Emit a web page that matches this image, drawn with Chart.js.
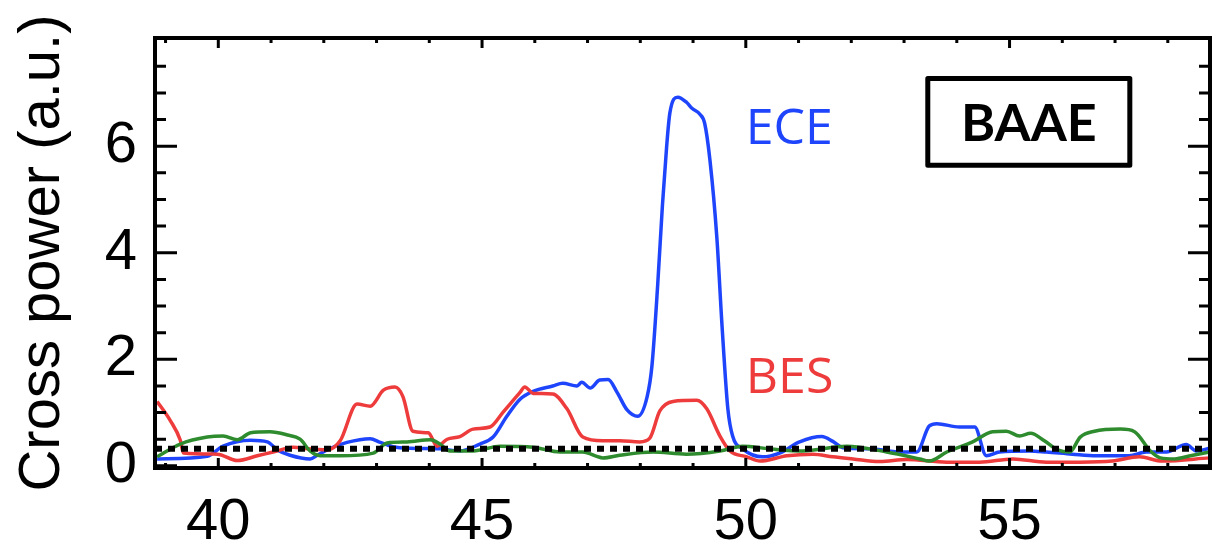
<!DOCTYPE html>
<html>
<head>
<meta charset="utf-8">
<title>BAAE cross power</title>
<script src="https://cdn.jsdelivr.net/npm/chart.js@4.4.1/dist/chart.umd.min.js"></script>
<style>
  html, body { margin:0; padding:0; background:#fff; }
  #wrap { width:1218px; height:550px; position:relative; }
</style>
</head>
<body>
<div id="wrap"><canvas id="cpChart"></canvas></div>
<script>
// ── Spectra (frequency in kHz, cross power in a.u.) ─────
const eceFreq  = [38.84,39.79,40.09,40.61,40.93,41.12,41.36,41.74,41.88,42.06,42.44,42.88,43.07,43.31,43.64,44.20,44.58,44.96,45.21,45.47,45.72,45.97,46.34,46.53,46.80,46.89,47.05,47.23,47.39,47.56,47.75,47.95,48.13,48.22,48.33,48.42,48.50,48.56,48.71,48.88,48.98,49.13,49.22,49.32,49.45,49.55,49.66,49.75,49.94,50.32,50.64,51.02,51.44,51.65,51.84,52.35,52.97,53.24,53.48,53.62,54.05,54.34,54.56,54.81,55.38,55.70,56.19,56.65,57.27,57.59,57.97,58.35,58.54,58.79];
const ecePower = [0.13,0.18,0.37,0.48,0.45,0.30,0.20,0.13,0.20,0.30,0.44,0.51,0.44,0.36,0.33,0.32,0.28,0.41,0.54,0.93,1.25,1.40,1.50,1.55,1.50,1.57,1.46,1.61,1.62,1.38,1.05,0.93,1.30,1.87,3.40,4.90,6.00,6.62,6.92,6.82,6.71,6.60,6.43,5.74,4.30,2.62,1.07,0.56,0.32,0.17,0.24,0.45,0.55,0.46,0.34,0.32,0.26,0.26,0.75,0.79,0.73,0.73,0.19,0.26,0.28,0.26,0.22,0.19,0.19,0.26,0.26,0.40,0.28,0.33];

const besFreq  = [38.84,39.09,39.28,39.34,39.98,40.36,40.74,41.04,41.42,41.69,42.06,42.31,42.63,42.88,43.13,43.35,43.50,43.69,43.98,44.15,44.34,44.58,44.83,45.15,45.40,45.72,45.81,45.97,46.34,46.61,46.91,47.29,47.61,47.99,48.18,48.37,48.62,49.07,49.26,49.51,49.70,50.02,50.27,50.78,51.27,51.65,52.03,52.54,53.05,53.81,54.43,55.06,55.70,56.33,56.95,57.46,57.90,58.79];
const besPower = [1.21,0.85,0.48,0.24,0.22,0.10,0.19,0.26,0.35,0.32,0.30,0.47,1.16,1.12,1.42,1.48,1.30,0.65,0.62,0.37,0.50,0.55,0.69,0.73,1.01,1.38,1.48,1.36,1.35,1.07,0.54,0.47,0.47,0.45,0.52,1.03,1.21,1.23,1.07,0.56,0.28,0.17,0.09,0.19,0.22,0.17,0.13,0.08,0.12,0.07,0.07,0.13,0.07,0.07,0.09,0.17,0.09,0.15];

const refFreq  = [38.84,39.28,39.79,40.09,40.36,40.61,40.98,41.31,41.55,41.74,41.93,42.31,42.94,43.20,43.58,44.02,44.20,44.39,44.83,45.34,45.97,46.48,46.91,47.29,47.61,48.24,48.87,49.51,49.94,50.45,51.08,51.91,52.67,53.30,53.48,53.81,54.30,54.68,54.94,55.19,55.40,55.66,55.91,56.14,56.34,56.61,57.10,57.37,57.67,57.86,58.13,58.43,58.79];
const refPower = [0.17,0.41,0.54,0.56,0.49,0.62,0.64,0.58,0.50,0.28,0.19,0.19,0.24,0.43,0.45,0.49,0.41,0.28,0.28,0.37,0.35,0.26,0.26,0.15,0.20,0.26,0.22,0.28,0.37,0.32,0.28,0.37,0.26,0.13,0.09,0.26,0.45,0.64,0.65,0.56,0.61,0.47,0.30,0.26,0.54,0.65,0.69,0.64,0.28,0.15,0.13,0.19,0.26];

const noiseLevel = 0.32;
const freqRange  = [38.8, 58.8];
const powerRange = [-0.04, 8.03];

const xTicks = [40, 45, 50, 55];
const yTicks = [0, 2, 4, 6];

const toPoints = (xs, ys) => xs.map((x, i) => ({ x, y: ys[i] }));

// ── Box frame with inward ticks on all four sides ───────
const frameTicks = {
  id: "frameTicks",
  afterDraw(chart) {
    const { ctx, chartArea: a, scales: { x, y } } = chart;
    ctx.save();
    ctx.strokeStyle = "#000";
    ctx.lineWidth = 3;
    ctx.beginPath();
    for (let v = Math.ceil(freqRange[0]); v <= freqRange[1]; v++) {
      const px = x.getPixelForValue(v);
      const len = v % 5 === 0 ? 10 : 5;
      ctx.moveTo(px, a.bottom); ctx.lineTo(px, a.bottom - len);
      ctx.moveTo(px, a.top);    ctx.lineTo(px, a.top + len);
    }
    for (let v = 0; v < 8; v += 0.5) {
      const py = y.getPixelForValue(v);
      const len = v % 2 === 0 ? 22 : 11;
      ctx.moveTo(a.left, py);  ctx.lineTo(a.left + len, py);
      ctx.moveTo(a.right, py); ctx.lineTo(a.right - len, py);
    }
    ctx.stroke();
    ctx.lineWidth = 4;
    ctx.strokeRect(a.left, a.top, a.right - a.left, a.bottom - a.top);
    ctx.restore();
  }
};

// ── Curve names and the BAAE box ────────────────────────
const annotations = {
  id: "annotations",
  afterDraw(chart) {
    const { ctx, scales: { x, y } } = chart;
    ctx.save();
    ctx.textBaseline = "middle";
    ctx.textAlign = "left";
    ctx.font = "50px 'Open Sans'";
    ctx.fillStyle = "#1f45fc";
    ctx.fillText("ECE", x.getPixelForValue(50.0), y.getPixelForValue(6.3));
    ctx.fillStyle = "#ee3b3b";
    ctx.fillText("BES", x.getPixelForValue(50.0), y.getPixelForValue(1.63));

    const bx0 = x.getPixelForValue(53.45), bx1 = x.getPixelForValue(57.28);
    const by0 = y.getPixelForValue(7.27),  by1 = y.getPixelForValue(5.64);
    ctx.strokeStyle = "#000";
    ctx.lineWidth = 5;
    ctx.lineJoin = "round";
    ctx.strokeRect(bx0, by0, bx1 - bx0, by1 - by0);
    ctx.fillStyle = "#000";
    ctx.textAlign = "center";
    ctx.font = "bold 52px Lato";
    ctx.fillText("BAAE", (bx0 + bx1) / 2, (by0 + by1) / 2 + 2);
    ctx.restore();
  }
};

const line = (data, color, extra) => Object.assign({
  data, borderColor: color, borderWidth: 3.5, pointRadius: 0,
  cubicInterpolationMode: "monotone", fill: false
}, extra);

new Chart(document.getElementById("cpChart"), {
  type: "line",
  data: {
    datasets: [
      line(toPoints(freqRange, [noiseLevel, noiseLevel]), "#000", { borderWidth: 6, borderDash: [7, 6] }),
      line(toPoints(refFreq, refPower), "#2e8b2e"),
      line(toPoints(besFreq, besPower), "#ee3b3b"),
      line(toPoints(eceFreq, ecePower), "#1f45fc"),
    ]
  },
  options: {
    responsive: true, maintainAspectRatio: false, animation: false,
    layout: { padding: { top: 38, right: 8 } },
    plugins: { legend: { display: false }, tooltip: { enabled: false } },
    scales: {
      x: {
        type: "linear", min: freqRange[0], max: freqRange[1],
        afterBuildTicks: s => { s.ticks = xTicks.map(value => ({ value })); },
        afterFit: s => { s.height = 82; s.paddingLeft = 0; s.paddingRight = 0; },
        grid: { display: false, drawTicks: false }, border: { display: false },
        ticks: { padding: 20, color: "#000", font: { family: "'Liberation Sans', Arial", size: 58 } }
      },
      y: {
        min: powerRange[0], max: powerRange[1],
        afterBuildTicks: s => { s.ticks = yTicks.map(value => ({ value })); },
        afterFit: s => { s.width = 155; s.paddingTop = 0; s.paddingBottom = 0; },
        grid: { display: false, drawTicks: false }, border: { display: false },
        ticks: { padding: 18, color: "#000", font: { family: "'Liberation Sans', Arial", size: 58 } },
        title: {
          display: true, text: "Cross power (a.u.)", color: "#000",
          padding: { top: 8, bottom: 0 },
          font: { family: "'Liberation Sans', Arial", size: 58 }
        }
      }
    }
  },
  plugins: [frameTicks, annotations]
});
</script>
</body>
</html>
